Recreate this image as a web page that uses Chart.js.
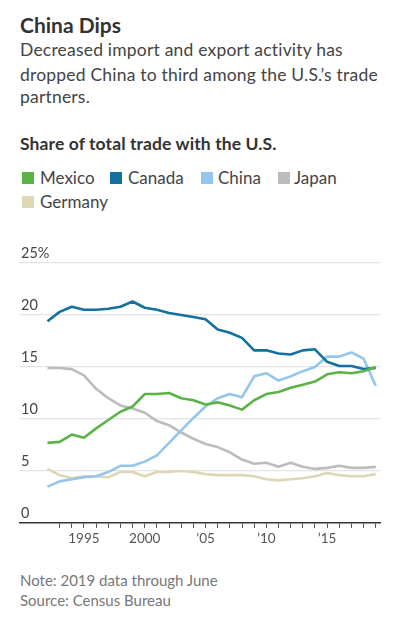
<!DOCTYPE html>
<html>
<head>
<meta charset="utf-8">
<script src="https://cdn.jsdelivr.net/npm/chart.js@4.4.1/dist/chart.umd.min.js"></script>
<style>
  body { margin: 0; background: #fff; font-family: Lato, "Noto Sans", sans-serif; }
  #page { position: relative; width: 398px; height: 641px; overflow: hidden; }
  .t { position: absolute; left: 20px; white-space: nowrap; line-height: 1; }
  .title { font-size: 21px; font-weight: 700; color: #333; }
  .sub { font-size: 17.5px; color: #444; letter-spacing: 0.2px; }
  .head { font-size: 17.5px; font-weight: 700; color: #333; letter-spacing: 0.1px; }
  .leg { position: absolute; font-size: 17px; color: #444; line-height: 1; white-space: nowrap; }
  .sw { position: absolute; width: 12px; height: 12px; }
  .note { font-size: 15px; color: #777; }
  #chartBox { position: absolute; left: 0; top: 240px; }
</style>
</head>
<body>
<div id="page">
  <div class="t title" style="top:14px">China Dips</div>
  <div class="t sub" style="top:41px">Decreased import and export activity has</div>
  <div class="t sub" style="top:65.5px">dropped China to third among the U.S.’s trade</div>
  <div class="t sub" style="top:87.5px">partners.</div>
  <div class="t head" style="top:134.5px">Share of total trade with the U.S.</div>
  <div id="legend"></div>
  <div class="t note" style="top:572.5px">Note: 2019 data through June</div>
  <div class="t note" style="top:593px">Source: Census Bureau</div>
  <div id="chartBox"><canvas id="tradeChart" width="398" height="310"></canvas></div>
</div>
<script>
// share of total U.S. trade, percent, 1992-2019
const years = [1992, 1993, 1994, 1995, 1996, 1997, 1998, 1999, 2000, 2001,
               2002, 2003, 2004, 2005, 2006, 2007, 2008, 2009, 2010, 2011,
               2012, 2013, 2014, 2015, 2016, 2017, 2018, 2019];
const mexico  = [7.7, 7.8, 8.5, 8.2, 9.1, 9.9, 10.7, 11.2, 12.4, 12.4,
                 12.5, 12.0, 11.8, 11.4, 11.6, 11.3, 10.9, 11.8, 12.4, 12.6,
                 13.0, 13.3, 13.6, 14.3, 14.5, 14.4, 14.6, 15.0];
const canada  = [19.4, 20.3, 20.8, 20.5, 20.5, 20.6, 20.8, 21.3, 20.7, 20.5,
                 20.2, 20.0, 19.8, 19.6, 18.6, 18.3, 17.8, 16.6, 16.6, 16.3,
                 16.2, 16.6, 16.7, 15.5, 15.1, 15.1, 14.8, 14.9];
const china   = [3.5, 4.0, 4.2, 4.4, 4.5, 4.9, 5.5, 5.5, 5.9, 6.5,
                 7.7, 8.9, 10.1, 11.2, 12.0, 12.4, 12.1, 14.1, 14.4, 13.7,
                 14.1, 14.6, 15.0, 16.0, 16.0, 16.4, 15.8, 13.2];
const japan   = [14.9, 14.9, 14.8, 14.2, 12.9, 12.0, 11.3, 11.0, 10.6, 9.8,
                 9.4, 8.7, 8.1, 7.6, 7.3, 6.8, 6.1, 5.7, 5.8, 5.4,
                 5.8, 5.4, 5.2, 5.3, 5.5, 5.3, 5.3, 5.4];
const germany = [5.2, 4.6, 4.3, 4.5, 4.5, 4.4, 4.9, 4.9, 4.5, 4.9,
                 4.9, 5.0, 4.9, 4.7, 4.6, 4.6, 4.6, 4.5, 4.2, 4.1,
                 4.2, 4.3, 4.5, 4.8, 4.6, 4.5, 4.5, 4.7];
const yTicks = [0, 5, 10, 15, 20, 25];

const series = [
    { label: 'Mexico',  data: mexico,  color: '#5bb348' },
    { label: 'Canada',  data: canada,  color: '#14709f' },
    { label: 'China',   data: china,   color: '#93c6ea' },
    { label: 'Japan',   data: japan,   color: '#bcbcbc' },
    { label: 'Germany', data: germany, color: '#ddd7b6' }
];

// html legend (two rows like the original)
const legendPos = [[22, 40, 171.5], [110, 128, 171.5], [201, 218, 171.5], [278, 294, 171.5], [22, 40, 195.5]];
const legendEl = document.getElementById('legend');
series.forEach((s, i) => {
    const [sx, tx, ty] = legendPos[i];
    const sw = document.createElement('div');
    sw.className = 'sw';
    sw.style.left = sx + 'px';
    sw.style.top = ty + 'px';
    sw.style.background = s.color;
    legendEl.appendChild(sw);
    const lb = document.createElement('div');
    lb.className = 'leg';
    lb.style.left = tx + 'px';
    lb.style.top = (ty - 2.5) + 'px';
    lb.textContent = s.label;
    legendEl.appendChild(lb);
});

const ctx = document.getElementById('tradeChart');
new Chart(ctx, {
    type: 'line',
    data: {
        datasets: series.map(s => ({
            label: s.label,
            data: years.map((y, i) => ({ x: y, y: s.data[i] })),
            borderColor: s.color,
            borderWidth: 2.6,
            pointRadius: 0,
            tension: 0,
            fill: false,
            borderJoinStyle: 'round'
        }))
    },
    options: {
        responsive: false,
        animation: false,
        layout: { padding: { left: 20, right: 18, top: 23, bottom: 0 } },
        plugins: { legend: { display: false }, tooltip: { enabled: false } },
        scales: {
            x: {
                type: 'linear',
                min: 1989.74,
                max: 2019.35,
                afterBuildTicks: axis => {
                    axis.ticks = years.slice(1).map(v => ({ value: v }));
                },
                afterFit: axis => { axis.height = 27; },
                grid: { drawOnChartArea: false, drawTicks: true, tickLength: 5, tickColor: '#555', tickWidth: 1 },
                border: { display: true, color: '#333', width: 1.5 },
                ticks: {
                    autoSkip: false,
                    maxRotation: 0,
                    padding: 3,
                    color: '#555',
                    font: { family: 'Lato', size: 13.5 },
                    callback: v => {
                        if (v % 5 !== 0) return '';
                        return v <= 2000 ? String(v) : '\u2019' + String(v).slice(2);
                    }
                }
            },
            y: {
                min: 0,
                max: 25,
                afterBuildTicks: axis => {
                    axis.ticks = yTicks.map(v => ({ value: v }));
                },
                afterFit: axis => { axis.width = 0; },
                grid: {
                    drawTicks: false,
                    color: c => (c.tick && c.tick.value === 0) ? 'rgba(0,0,0,0)' : '#e4e4e4',
                    lineWidth: 1.2
                },
                border: { display: false },
                ticks: {
                    mirror: true,
                    padding: 1,
                    labelOffset: -10,
                    color: '#444',
                    font: { family: 'Lato', size: 14.5 },
                    callback: v => v === 25 ? '25%' : String(v)
                }
            }
        }
    }
});
</script>
</body>
</html>
